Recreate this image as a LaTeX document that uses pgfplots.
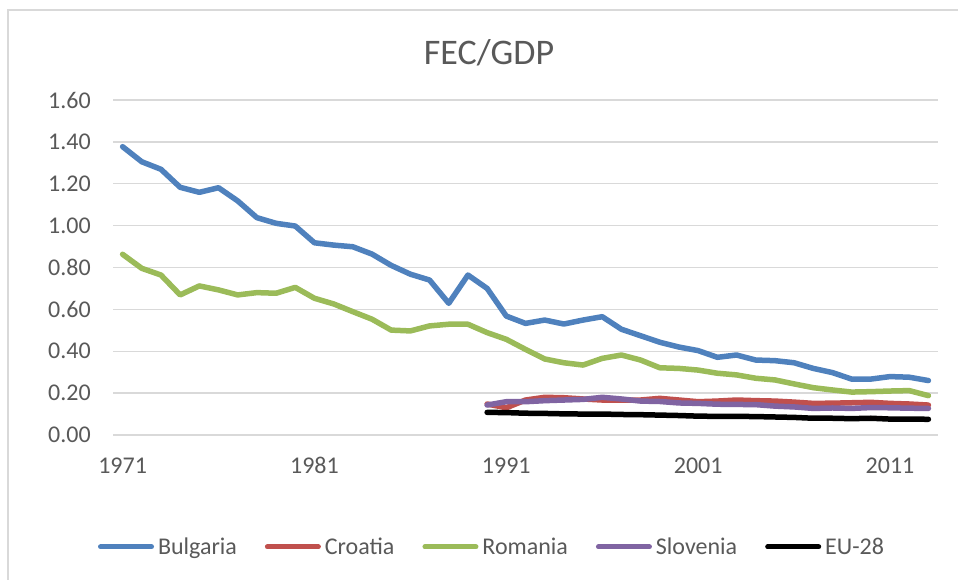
\documentclass[border=0pt]{standalone}
\usepackage{fontspec}
\setmainfont{Carlito}
\usepackage{pgfplots}
\pgfplotsset{compat=1.18}

\definecolor{bulg}{HTML}{4F81BD}
\definecolor{croa}{HTML}{C0504D}
\definecolor{roma}{HTML}{9BBB59}
\definecolor{slov}{HTML}{8064A2}
\definecolor{txt}{HTML}{595959}
\definecolor{gridgray}{HTML}{D9D9D9}

\begin{document}
\begin{tikzpicture}
\useasboundingbox (0pt,0pt) rectangle (958pt,580pt);
% chart frame (cut off at the right and bottom)
\draw[gridgray, line width=1.3pt] (8pt,-20pt) rectangle (1000pt,570pt);

\begin{axis}[
    at={(113pt,145pt)}, anchor=south west,
    scale only axis,
    width=825pt, height=335pt,
    xmin=1970.5, xmax=2013.5,
    ymin=0, ymax=1.6,
    xtick={1971,1981,1991,2001,2011},
    ytick={0,0.2,0.4,0.6,0.8,1.0,1.2,1.4,1.6},
    major tick length=0pt,
    axis line style={draw=none},
    ymajorgrids=true,
    grid style={gridgray, line width=1.3pt},
    /pgf/number format/assume math mode=true,
    x tick label style={/pgf/number format/set thousands separator={}},
    y tick label style={/pgf/number format/fixed, /pgf/number format/fixed zerofill,
        /pgf/number format/precision=2},
    ticklabel style={font=\fontsize{24}{28}\selectfont, text=txt},
    xticklabel style={anchor=base, yshift=-38.3pt},
    yticklabel style={anchor=east, inner sep=0pt, xshift=-22pt},
    every axis plot/.append style={line width=5.5pt, line join=round, line cap=round},
    legend columns=5,
    legend style={at={(0.4594,-0.334)}, anchor=center, draw=none, fill=none,
        font=\fontsize{24}{28}\selectfont, text=txt,
        /tikz/every odd column/.append style={column sep=2pt},
        /tikz/every even column/.append style={column sep=26pt}},
    legend image code/.code={\draw[#1, line width=5pt] (0pt,0pt) -- (51pt,0pt);},
]

\addplot[bulg] coordinates {
(1971,1.377)(1972,1.305)(1973,1.269)(1974,1.183)(1975,1.159)(1976,1.181)
(1977,1.118)(1978,1.038)(1979,1.011)(1980,0.998)(1981,0.918)(1982,0.907)
(1983,0.899)(1984,0.864)(1985,0.810)(1986,0.768)(1987,0.740)(1988,0.629)
(1989,0.764)(1990,0.700)(1991,0.568)(1992,0.533)(1993,0.549)(1994,0.530)
(1995,0.549)(1996,0.565)(1997,0.505)(1998,0.474)(1999,0.443)(2000,0.420)
(2001,0.403)(2002,0.371)(2003,0.382)(2004,0.358)(2005,0.355)(2006,0.345)
(2007,0.318)(2008,0.298)(2009,0.267)(2010,0.267)(2011,0.279)(2012,0.276)
(2013,0.260)};

\addplot[croa] coordinates {
(1990,0.148)(1991,0.130)(1992,0.167)(1993,0.180)(1994,0.178)(1995,0.172)
(1996,0.167)(1997,0.167)(1998,0.167)(1999,0.175)(2000,0.167)(2001,0.159)
(2002,0.162)(2003,0.167)(2004,0.164)(2005,0.162)(2006,0.157)(2007,0.151)
(2008,0.152)(2009,0.154)(2010,0.156)(2011,0.151)(2012,0.148)(2013,0.143)};

\addplot[roma] coordinates {
(1971,0.863)(1972,0.796)(1973,0.764)(1974,0.669)(1975,0.712)(1976,0.693)
(1977,0.669)(1978,0.680)(1979,0.677)(1980,0.705)(1981,0.653)(1982,0.626)
(1983,0.589)(1984,0.553)(1985,0.501)(1986,0.497)(1987,0.521)(1988,0.529)
(1989,0.529)(1990,0.489)(1991,0.457)(1992,0.409)(1993,0.363)(1994,0.345)
(1995,0.334)(1996,0.366)(1997,0.382)(1998,0.358)(1999,0.321)(2000,0.318)
(2001,0.310)(2002,0.295)(2003,0.287)(2004,0.271)(2005,0.263)(2006,0.244)
(2007,0.226)(2008,0.215)(2009,0.205)(2010,0.207)(2011,0.210)(2012,0.212)
(2013,0.188)};

\addplot[slov] coordinates {
(1990,0.143)(1991,0.159)(1992,0.159)(1993,0.164)(1994,0.167)(1995,0.170)
(1996,0.180)(1997,0.172)(1998,0.162)(1999,0.160)(2000,0.153)(2001,0.151)
(2002,0.147)(2003,0.146)(2004,0.145)(2005,0.138)(2006,0.134)(2007,0.127)
(2008,0.129)(2009,0.127)(2010,0.131)(2011,0.130)(2012,0.128)(2013,0.127)};

\addplot[black] coordinates {
(1990,0.108)(1991,0.107)(1992,0.104)(1993,0.103)(1994,0.101)(1995,0.100)
(1996,0.100)(1997,0.098)(1998,0.097)(1999,0.095)(2000,0.093)(2001,0.090)
(2002,0.089)(2003,0.089)(2004,0.088)(2005,0.086)(2006,0.084)(2007,0.080)
(2008,0.080)(2009,0.078)(2010,0.080)(2011,0.076)(2012,0.076)(2013,0.075)};

\legend{Bulgaria,Croatia,Romania,Slovenia,EU-28}
\end{axis}

\node[anchor=base, font=\fontsize{36}{40}\selectfont, text=txt] at (489pt,515pt) {FEC/GDP};
\end{tikzpicture}
\end{document}
